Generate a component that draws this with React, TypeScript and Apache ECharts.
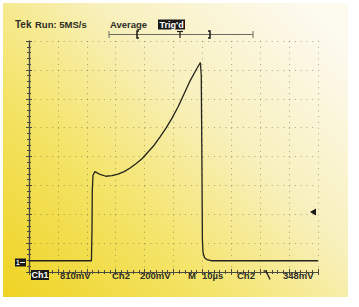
import React, { useEffect, useRef } from "react";
import * as echarts from "echarts";

// Ch1 waveform: time in µs (10 µs/div, 10 divisions), voltage in V relative to the Ch1 ground marker
const timeUs = [0, 21.6, 21.8, 21.9, 22.15, 22.8, 24.6, 26.6, 28.7, 30.8, 32.9, 35.0, 37.0, 39.1, 41.2, 43.3, 45.3, 47.4, 49.5, 51.6, 53.6, 55.7, 57.8, 59.3, 59.6, 59.8, 60.0, 60.2, 60.7, 61.6, 63.0, 100];
const ch1Volts = [0, 0, 0.86, 1.98, 2.4, 2.5, 2.42, 2.37, 2.39, 2.43, 2.5, 2.6, 2.72, 2.86, 3.05, 3.24, 3.47, 3.72, 4.0, 4.32, 4.67, 5.04, 5.35, 5.56, 5.21, 3.1, 0.58, 0.24, 0.09, 0.03, 0, 0];

// Screen scale: 8 vertical divisions at 810 mV/div, ground 0.39 div above the bottom
const voltsPerDiv = 0.81;
const groundDiv = 0.39;
const verticalDivs = 8;
const triggerMarkerVolts = 1.37;

// Readout texts
const headerTexts = ["Tek", "Run: 5MS/s", "Average", "Trig'd"];
const footerTexts = ["Ch1", "810mV", "Ch2", "200mV", "M", "10µs", "Ch2", "348mV"];

const FONT = "Liberation Sans";

export default function App() {
  const ref = useRef<HTMLDivElement>(null);
  useEffect(() => {
    if (!ref.current) return;
    const chart = echarts.init(ref.current, undefined, { renderer: "svg" });
    const gridLine = { show: true, lineStyle: { color: "rgba(90,90,60,0.5)", width: 1, type: [1, 4.78] as any } };
    const tickStyle = { color: "#4a4a40", width: 1 };
    const gratX = (pos: "bottom" | "top", split: boolean) => ({
      type: "value" as const,
      min: 0,
      max: 100,
      interval: 10,
      position: pos,
      axisLine: { show: true, lineStyle: { color: "#4a4a40", width: 1.2 } },
      axisTick: { show: true, inside: true, length: 3, lineStyle: tickStyle },
      minorTick: { show: true, splitNumber: 5, length: 2, lineStyle: tickStyle },
      axisLabel: { show: false },
      splitLine: split ? gridLine : { show: false },
    });
    const gratY = (pos: "left" | "right", split: boolean) => ({
      type: "value" as const,
      min: 0,
      max: verticalDivs,
      interval: 1,
      position: pos,
      axisLine: { show: true, lineStyle: { color: "#4a4a40", width: 1.2 } },
      axisTick: { show: true, inside: true, length: 3, lineStyle: tickStyle },
      minorTick: { show: true, splitNumber: 5, length: 2, lineStyle: tickStyle },
      axisLabel: { show: false },
      splitLine: split ? gridLine : { show: false },
    });
    const txt = (text: string, x: number, y: number, opts: any = {}) => ({
      type: "text",
      x,
      y,
      style: {
        text,
        fill: opts.fill || "#2e2e26",
        font: `${opts.weight || "bold"} ${opts.size || 9.5}px "${FONT}"`,
        textVerticalAlign: "middle",
        textAlign: "left",
      },
      z: 10,
    });
    const bg = new echarts.graphic.LinearGradient(0, 1, 1, 0.15, [
      { offset: 0, color: "#efd322" },
      { offset: 0.35, color: "#f4e468" },
      { offset: 0.65, color: "#f8f0bc" },
      { offset: 1, color: "#fdfaf0" },
    ]);
    chart.setOption({
      animation: false,
      backgroundColor: "#ffffff",
      grid: { left: 29, top: 41, width: 289, height: 231, show: false },
      xAxis: [gratX("bottom", true), gratX("top", false)],
      yAxis: [
        gratY("left", true),
        gratY("right", false),
        {
          type: "value",
          show: false,
          min: -groundDiv * voltsPerDiv,
          max: (verticalDivs - groundDiv) * voltsPerDiv,
        },
      ],
      graphic: [
        { type: "rect", shape: { x: 3, y: 3, width: 345, height: 294 }, style: { fill: bg }, z: -10, silent: true },
        txt(headerTexts[0], 15, 24.5, { size: 10 }),
        txt(headerTexts[1], 35, 24.5),
        txt(headerTexts[2], 110, 24.5),
        { type: "rect", shape: { x: 158, y: 19.5, width: 27, height: 10 }, style: { fill: "#1a1a18" }, z: 9 },
        txt(headerTexts[3], 159.5, 24.7, { fill: "#ffffff", size: 9 }),
        // trigger position bar
        { type: "line", shape: { x1: 109, y1: 34.5, x2: 253, y2: 34.5 }, style: { stroke: "#6a6a60", lineWidth: 1 }, z: 9 },
        { type: "line", shape: { x1: 109, y1: 31, x2: 109, y2: 38 }, style: { stroke: "#6a6a60", lineWidth: 1 }, z: 9 },
        { type: "line", shape: { x1: 253, y1: 31, x2: 253, y2: 38 }, style: { stroke: "#6a6a60", lineWidth: 1 }, z: 9 },
        { type: "polyline", shape: { points: [[139, 31], [137, 31], [137, 38], [139, 38]] }, style: { stroke: "#1a1a18", lineWidth: 1.5, fill: null }, z: 9 },
        { type: "polyline", shape: { points: [[208, 31], [210, 31], [210, 38], [208, 38]] }, style: { stroke: "#1a1a18", lineWidth: 1.5, fill: null }, z: 9 },
        { type: "line", shape: { x1: 177, y1: 31.5, x2: 183, y2: 31.5 }, style: { stroke: "#1a1a18", lineWidth: 1.2 }, z: 9 },
        { type: "line", shape: { x1: 180, y1: 31.5, x2: 180, y2: 38 }, style: { stroke: "#1a1a18", lineWidth: 1.2 }, z: 9 },
        // ground marker
        { type: "rect", shape: { x: 15, y: 258.5, width: 11, height: 8 }, style: { fill: "#1a1a18" }, z: 9 },
        txt("1", 16, 262.7, { fill: "#ffffff", size: 6.5 }),
        { type: "polyline", shape: { points: [[20, 262.5], [25, 262.5]] }, style: { stroke: "#ffffff", lineWidth: 1 }, z: 11 },
        // footer readout
        { type: "rect", shape: { x: 31, y: 270, width: 18, height: 10 }, style: { fill: "#1a1a18" }, z: 9 },
        txt(footerTexts[0], 31.5, 275.3, { fill: "#ffffff", size: 9 }),
        txt(footerTexts[1], 60, 275.3),
        txt(footerTexts[2], 112, 275.3),
        txt(footerTexts[3], 140, 275.3),
        txt(footerTexts[4], 188, 275.3),
        txt(footerTexts[5], 202, 275.3),
        txt(footerTexts[6], 237, 275.3),
        { type: "polyline", shape: { points: [[263.5, 271], [266, 271], [270, 279.5]] }, style: { stroke: "#2a2a22", lineWidth: 1.4, fill: null }, z: 9 },
        txt(footerTexts[7], 283, 275.3),
      ],
      series: [
        {
          type: "line",
          xAxisIndex: 0,
          yAxisIndex: 2,
          data: timeUs.map((t, i) => [t, ch1Volts[i]]),
          showSymbol: false,
          smooth: false,
          lineStyle: { color: "#23231c", width: 1.3 },
          markPoint: {
            symbol: "triangle",
            symbolSize: [7, 6],
            symbolRotate: 90,
            symbolOffset: [-5, 0],
            itemStyle: { color: "#1a1a18" },
            label: { show: false },
            data: [{ coord: [100, triggerMarkerVolts] }],
          },
          z: 5,
        },
      ],
    });
    return () => chart.dispose();
  }, []);
  return <div ref={ref} style={{ position: "fixed", left: 0, top: 0, width: 359, height: 307 }} />;
}
